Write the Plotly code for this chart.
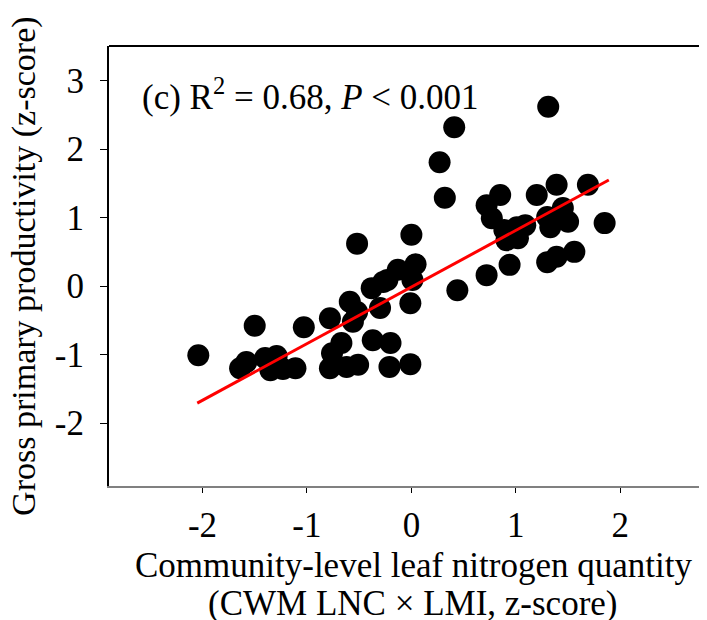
import plotly.graph_objects as go

# Community-level leaf nitrogen quantity (z-score)
lnq = [-2.04, -1.50, -1.03, -1.64, -1.58, -1.40, -1.29, -1.35, -1.23, -1.11,
       -0.78, -0.76, -0.67, -0.78, -0.62, -0.51, -0.37, -0.20, -0.21, -0.01,
       -0.59, -0.52, -0.56, -0.38, -0.30, -0.27, -0.13, 0.04, -0.01, 0.01,
       -0.23, -0.52, 0.00, 0.27, 0.41, 0.32, 0.44,
       0.72, 0.94, 1.30, 1.39, 1.56, 1.85, 1.69, 1.39, 1.20, 0.85, 0.72,
       0.77, 0.89, 1.01, 1.09, 0.91, 1.02, 1.30, 1.45, 1.50, 1.33, 1.31]
# Gross primary productivity (z-score)
gpp = [-1.01, -0.58, -0.60, -1.20, -1.11, -1.05, -1.02, -1.23, -1.21, -1.20,
       -0.47, -0.98, -0.83, -1.20, -1.18, -1.15, -0.79, -0.83, -1.18, -1.14,
       -0.23, -0.38, -0.52, -0.03, -0.32, 0.06, 0.24, 0.32, -0.25, 0.09,
       0.09, 0.62, 0.75, 1.81, 2.32, 1.29, -0.06,
       0.16, 0.31, 0.35, 0.43, 0.50, 0.92, 1.48, 1.48, 1.33, 1.33, 1.18,
       0.99, 0.82, 0.86, 0.89, 0.67, 0.70, 1.01, 1.14, 0.94, 0.86, 2.62]

# fitted regression line end points
fit_x = [-2.05, 1.89]
fit_y = [-1.71, 1.55]

x_ticks = [-2, -1, 0, 1, 2]
x_tick_labels = ["-2", "-1", "0", "1", "2"]
y_ticks = [-2, -1, 0, 1, 2, 3]
y_tick_labels = ["-2", "-1", "0", "1", "2", "3"]

x_title_1 = "Community-level leaf nitrogen quantity"
x_title_2 = "(CWM LNC × LMI, z-score)"
y_title = "Gross primary productivity (z-score)"
panel_label = "(c) R<sup>2</sup> = 0.68, <i>P</i> < 0.001"

FONT = "Liberation Serif, Times New Roman, serif"
FS = 35

fig = go.Figure()
fig.add_trace(go.Scatter(x=lnq, y=gpp, mode="markers",
                         marker=dict(size=22, color="black", line=dict(width=0)),
                         showlegend=False))
fig.add_trace(go.Scatter(x=fit_x, y=fit_y, mode="lines",
                         line=dict(color="red", width=3), showlegend=False))

# the page body adds an 8px offset, so the figure is sized to end at the window edge
fig.update_layout(
    width=699, height=612,
    margin=dict(l=101, r=0, t=38, b=134),
    paper_bgcolor="white", plot_bgcolor="white",
    font=dict(family=FONT, size=FS, color="black"),
    xaxis=dict(range=[-2.895, 2.83], tickvals=x_ticks, ticktext=x_tick_labels,
               showgrid=False, zeroline=False, showline=True, linecolor="#808080",
               linewidth=2, ticks="outside", ticklen=5, tickwidth=1, tickcolor="black",
               tickfont=dict(size=FS), ticklabelstandoff=2, automargin=False),
    yaxis=dict(range=[-2.92, 3.507], tickvals=y_ticks, ticktext=y_tick_labels,
               showgrid=False, zeroline=False, showline=True, linecolor="black",
               linewidth=2, ticks="outside", ticklen=7, tickwidth=1, tickcolor="black",
               tickfont=dict(size=FS), ticklabelstandoff=9, automargin=False),
    shapes=[dict(type="line", xref="paper", yref="paper", x0=0, x1=1, y0=1, y1=1,
                 line=dict(color="black", width=2))],
    annotations=[
        dict(text=panel_label, xref="paper", yref="paper", x=0.052, y=0.889,
             xanchor="left", yanchor="middle", showarrow=False, font=dict(size=FS)),
        dict(text=x_title_1, xref="paper", yref="paper", x=0.509, y=(486 - 565) / 440,
             xanchor="center", yanchor="middle", showarrow=False, font=dict(size=FS)),
        dict(text=x_title_2, xref="paper", yref="paper", x=0.509, y=(486 - 603) / 440,
             xanchor="center", yanchor="middle", showarrow=False, font=dict(size=FS)),
        dict(text=y_title, xref="paper", yref="paper", x=(24 - 109) / 598, y=0.498,
             xanchor="center", yanchor="middle", textangle=-90, showarrow=False,
             font=dict(size=34)),
    ],
)

fig.write_html("out.html")
